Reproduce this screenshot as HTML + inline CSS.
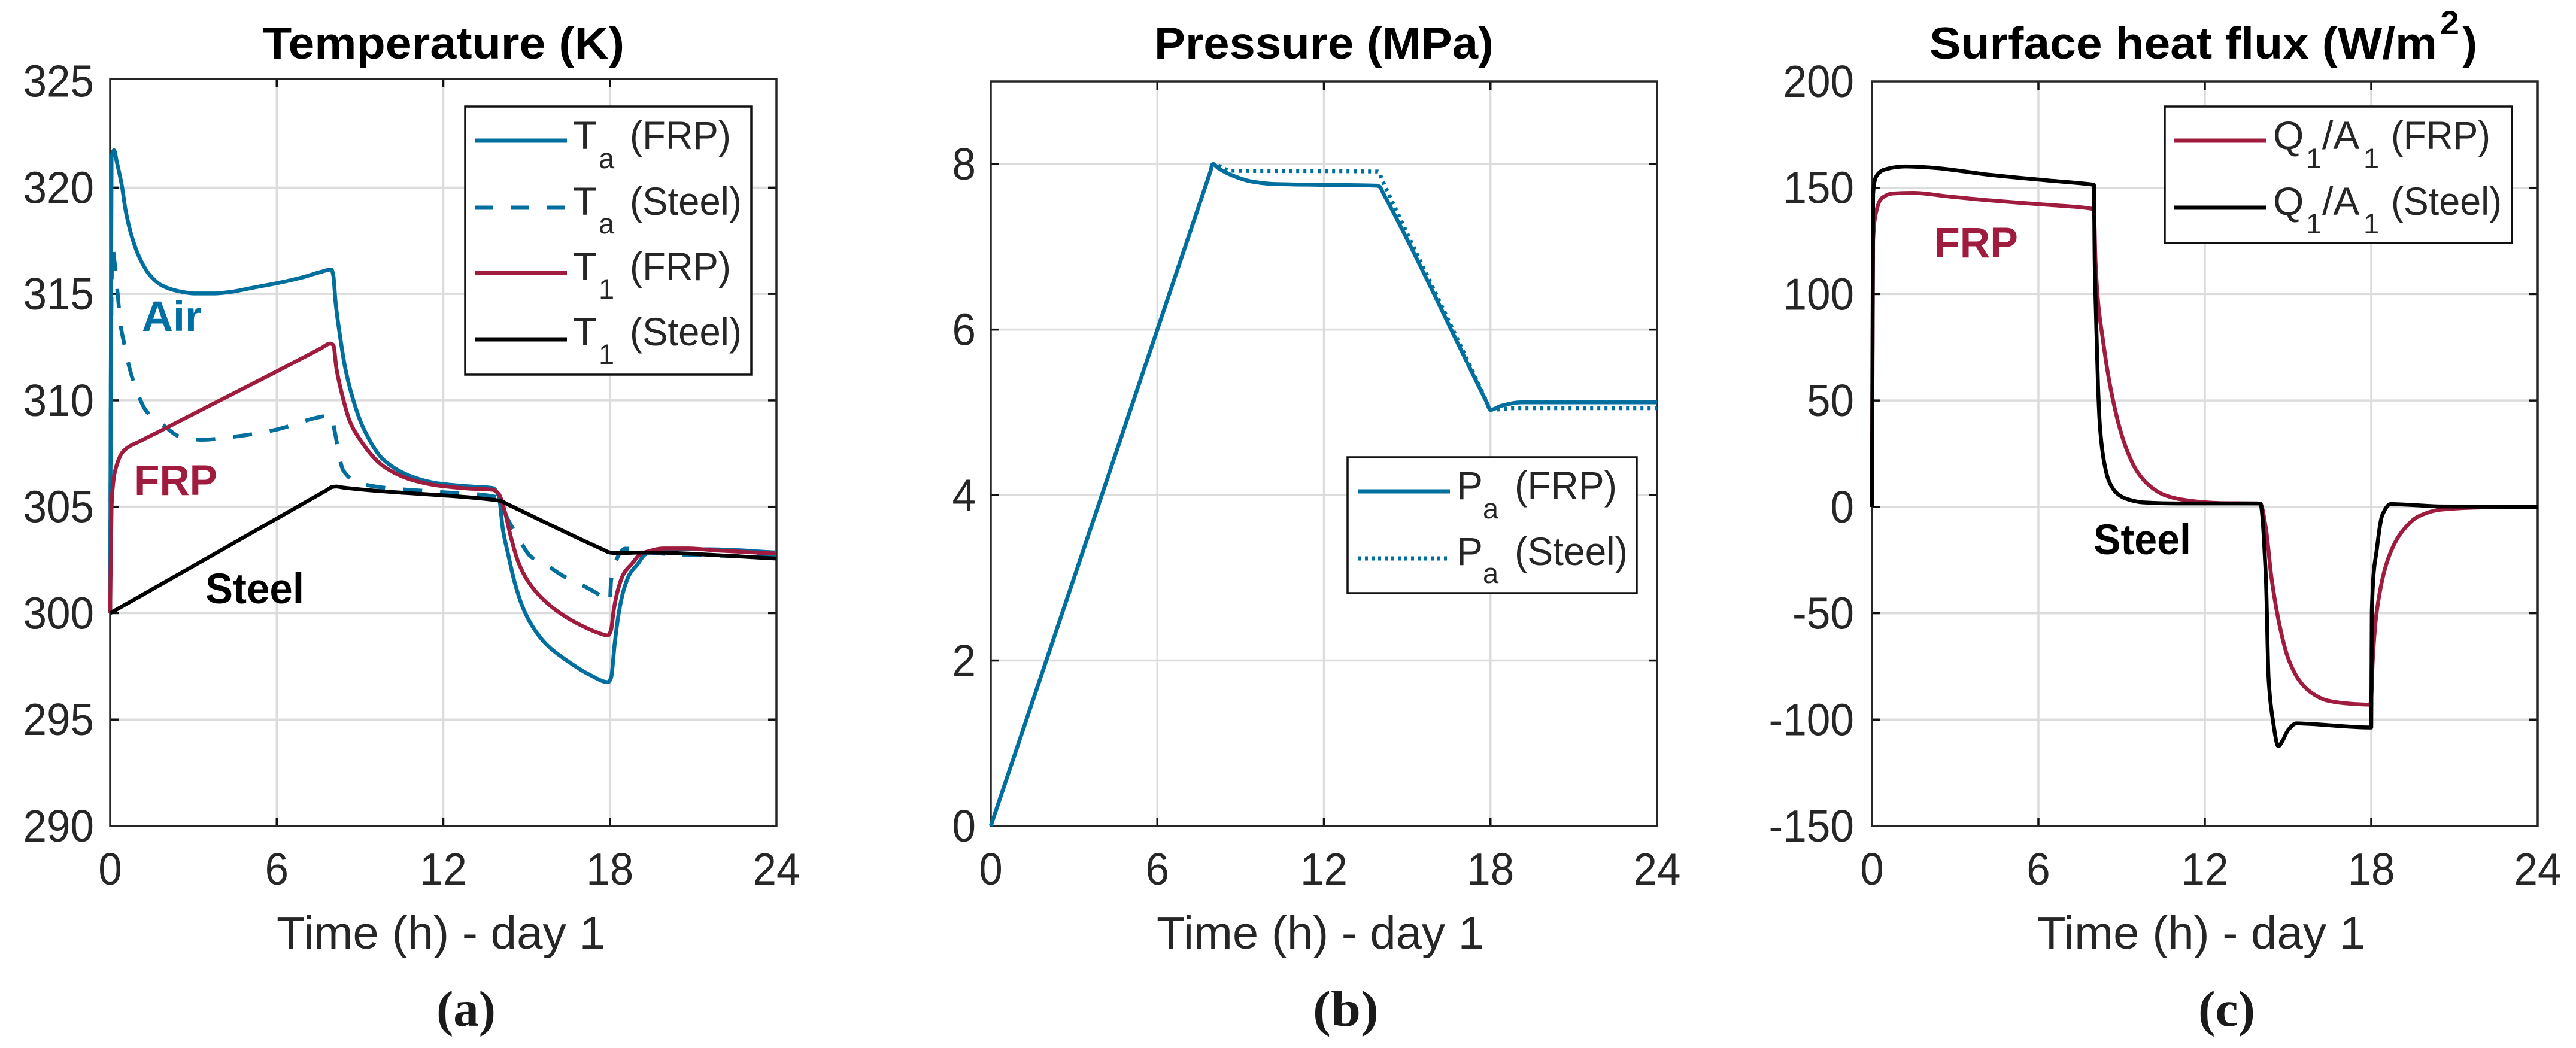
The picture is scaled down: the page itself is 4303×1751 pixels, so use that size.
<!DOCTYPE html>
<html lang="en">
<head>
<meta charset="utf-8">
<title>Temperature, pressure and surface heat flux charts</title>
<style>
html,body{margin:0;padding:0;background:#fff;width:4303px;height:1751px;overflow:hidden}
svg{display:block}
text{font-family:"Liberation Sans",Arial,sans-serif;fill:#262626}
.title{font-size:75px;font-weight:bold;fill:#000}
.xlabel{font-size:77px;text-anchor:start}
.tick{font-size:75px}
.sub-label{font-family:"Liberation Serif","Times New Roman",serif;font-size:85px;font-weight:bold;fill:#1a1a1a}
.leg{font-size:66px}
.legs{font-size:47px}
.note{font-size:71px;font-weight:bold}
</style>
</head>
<body>
<svg id="figure" xmlns="http://www.w3.org/2000/svg" width="4303" height="1751" viewBox="0 0 4303 1751">
  <rect x="0" y="0" width="4303" height="1751" fill="#fff"/>
  <g id="panel-a"></g>
  <g id="panel-b"></g>
  <g id="panel-c"></g>

  <g>
    <text class="title" x="439" y="98" textLength="604" lengthAdjust="spacingAndGlyphs">Temperature (K)</text>
    <text class="title" x="1928" y="98" textLength="567" lengthAdjust="spacingAndGlyphs">Pressure (MPa)</text>
    <text class="title" x="3223" y="98" textLength="848" lengthAdjust="spacingAndGlyphs">Surface heat flux (W/m</text>
    <text class="title" x="4076" y="57" style="font-size:56px" textLength="32" lengthAdjust="spacingAndGlyphs">2</text>
    <text class="title" x="4113" y="98" textLength="25" lengthAdjust="spacingAndGlyphs">)</text>
  </g>

  <g>
    <text class="xlabel" x="462" y="1585" textLength="549" lengthAdjust="spacingAndGlyphs">Time (h) - day 1</text>
    <text class="xlabel" x="1932" y="1585" textLength="547" lengthAdjust="spacingAndGlyphs">Time (h) - day 1</text>
    <text class="xlabel" x="3403" y="1585" textLength="548" lengthAdjust="spacingAndGlyphs">Time (h) - day 1</text>
  </g>

  <g>
    <text class="sub-label" x="729" y="1714" textLength="99" lengthAdjust="spacingAndGlyphs">(a)</text>
    <text class="sub-label" x="2193" y="1714" textLength="110" lengthAdjust="spacingAndGlyphs">(b)</text>
    <text class="sub-label" x="3672" y="1714" textLength="95" lengthAdjust="spacingAndGlyphs">(c)</text>
  </g>

  <g id="overlays">
    <g>
      <text class="note" x="237" y="553" style="fill:#006fa3" textLength="100" lengthAdjust="spacingAndGlyphs">Air</text>
      <text class="note" x="224" y="827" style="fill:#a01c3e" textLength="139" lengthAdjust="spacingAndGlyphs">FRP</text>
      <text class="note" x="343" y="1008" style="fill:#000" textLength="165" lengthAdjust="spacingAndGlyphs">Steel</text>
    </g>
    <g>
      <text class="note" x="3231" y="430" style="fill:#a01c3e" textLength="140" lengthAdjust="spacingAndGlyphs">FRP</text>
      <text class="note" x="3497" y="926" style="fill:#000" textLength="163" lengthAdjust="spacingAndGlyphs">Steel</text>
    </g>

    <g>
      <rect x="777" y="178" width="478" height="448" fill="#fff" stroke="#111" stroke-width="3.5"/>
      <g>
        <line x1="793" x2="947" y1="235" y2="235" stroke="#006f9e" stroke-width="7"/>
        <text class="leg" x="957" y="249">T</text><text class="legs" x="1000" y="281">a</text><text class="leg" x="1052" y="249" textLength="169" lengthAdjust="spacingAndGlyphs">(FRP)</text>
      </g>
      <g>
        <line x1="793" x2="947" y1="347" y2="347" stroke="#006f9e" stroke-width="7" stroke-dasharray="30 30"/>
        <text class="leg" x="957" y="359">T</text><text class="legs" x="1000" y="390">a</text><text class="leg" x="1052" y="359" textLength="187" lengthAdjust="spacingAndGlyphs">(Steel)</text>
      </g>
      <g>
        <line x1="793" x2="947" y1="456" y2="456" stroke="#a01c3e" stroke-width="7"/>
        <text class="leg" x="957" y="468">T</text><text class="legs" x="1000" y="499">1</text><text class="leg" x="1052" y="468" textLength="169" lengthAdjust="spacingAndGlyphs">(FRP)</text>
      </g>
      <g>
        <line x1="793" x2="947" y1="567" y2="567" stroke="#000" stroke-width="7"/>
        <text class="leg" x="957" y="577">T</text><text class="legs" x="1000" y="608">1</text><text class="leg" x="1052" y="577" textLength="187" lengthAdjust="spacingAndGlyphs">(Steel)</text>
      </g>
    </g>

    <g>
      <rect x="2251" y="764" width="483" height="227" fill="#fff" stroke="#111" stroke-width="3.5"/>
      <g>
        <line x1="2269" x2="2422" y1="821" y2="821" stroke="#006f9e" stroke-width="7"/>
        <text class="leg" x="2433" y="834">P</text><text class="legs" x="2477" y="866">a</text><text class="leg" x="2530" y="834" textLength="171" lengthAdjust="spacingAndGlyphs">(FRP)</text>
      </g>
      <g>
        <line x1="2269" x2="2422" y1="933" y2="933" stroke="#006f9e" stroke-width="7" stroke-dasharray="5 6"/>
        <text class="leg" x="2433" y="944">P</text><text class="legs" x="2477" y="974">a</text><text class="leg" x="2530" y="944" textLength="189" lengthAdjust="spacingAndGlyphs">(Steel)</text>
      </g>
    </g>

    <g>
      <rect x="3616" y="178" width="580" height="228" fill="#fff" stroke="#111" stroke-width="3.5"/>
      <g>
        <line x1="3632" x2="3785" y1="235" y2="235" stroke="#a01c3e" stroke-width="7"/>
        <text class="leg" x="3797" y="249">Q</text><text class="legs" x="3852" y="281">1</text><text class="leg" x="3879" y="249">/A</text><text class="legs" x="3948" y="281">1</text><text class="leg" x="3994" y="249" textLength="166" lengthAdjust="spacingAndGlyphs">(FRP)</text>
      </g>
      <g>
        <line x1="3632" x2="3785" y1="347" y2="347" stroke="#000" stroke-width="7"/>
        <text class="leg" x="3797" y="359">Q</text><text class="legs" x="3852" y="390">1</text><text class="leg" x="3879" y="359">/A</text><text class="legs" x="3948" y="390">1</text><text class="leg" x="3994" y="359" textLength="185" lengthAdjust="spacingAndGlyphs">(Steel)</text>
      </g>
    </g>
  </g>
</svg>

<script>
// ---------- shared tick data ----------
const timeTicks = [0, 6, 12, 18, 24];
const tempTicks = [290, 295, 300, 305, 310, 315, 320, 325];
const pressureTicks = [0, 2, 4, 6, 8];
const fluxTicks = [-150, -100, -50, 0, 50, 100, 150, 200];

// ---------- panel (a) temperature, K ----------
const taFrpTime = [0, 0.05, 0.14, 0.24, 0.42, 0.56, 0.78, 1.06, 1.42, 1.86, 2.43, 3.08, 3.73, 4.37, 5.09, 5.99, 6.9, 7.6, 7.97, 8.04, 8.12, 8.26, 8.47, 8.76, 9.12, 9.85, 10.9, 11.8, 13, 13.78, 14.0, 14.15, 14.33, 14.58, 14.87, 15.2, 15.7, 16.42, 17.28, 17.93, 18.04, 18.18, 18.32, 18.5, 18.72, 19, 19.26, 19.44, 20.1, 21.6, 24];
const taFrpTemp = [300, 321.4, 321.75, 321.2, 320.1, 318.9, 317.7, 316.7, 315.9, 315.4, 315.14, 315.02, 315.02, 315.1, 315.28, 315.5, 315.77, 316.04, 316.15, 315.85, 314.6, 313.2, 311.5, 310, 308.7, 307.2, 306.4, 306.1, 305.95, 305.88, 305.5, 303.9, 302.8, 301.4, 300.25, 299.4, 298.55, 297.8, 297.1, 296.76, 296.95, 298.65, 300, 301.1, 301.85, 302.3, 302.75, 302.85, 303, 303, 302.85];
const taSteelTime = [0, 0.03, 0.08, 0.15, 0.27, 0.38, 0.5, 0.7, 1.0, 1.3, 1.95, 2.5, 3.3, 4.5, 5.9, 7.5, 7.97, 8.08, 8.4, 8.9, 9.85, 11.8, 13.95, 14.33, 14.7, 15.15, 15.73, 16.3, 16.88, 17.5, 18, 18.04, 18.18, 18.35, 18.54, 19.2, 19.37, 24];
const taSteelTemp = [300, 312, 317.2, 316.6, 315, 313.5, 312.7, 311.5, 310.3, 309.5, 308.8, 308.3, 308.15, 308.3, 308.6, 309.2, 309.3, 308.6, 306.7, 306.15, 305.9, 305.7, 305.45, 304.4, 303.55, 302.66, 302.25, 301.76, 301.4, 300.96, 300.54, 301.5, 302.3, 302.8, 303.03, 303.03, 302.85, 302.65];
const t1FrpTime = [0, 0.05, 0.1, 0.18, 0.47, 1.15, 1.71, 4.0, 6, 7.6, 7.93, 8.04, 8.15, 8.33, 8.62, 8.83, 9.85, 10.9, 11.8, 13, 13.78, 14, 14.19, 14.44, 14.7, 15.05, 15.48, 16.13, 16.85, 17.57, 17.93, 18.04, 18.14, 18.29, 18.5, 18.8, 19.08, 19.37, 19.94, 20.8, 21.9, 24];
const t1FrpTemp = [300, 305, 306, 306.7, 307.6, 308.13, 308.5, 310.03, 311.36, 312.45, 312.67, 312.6, 311.5, 310.4, 309.06, 308.5, 306.9, 306.25, 306, 305.85, 305.8, 305.6, 304.9, 303.55, 302.4, 301.5, 300.8, 300.07, 299.5, 299.08, 298.95, 299.2, 300.16, 301.1, 301.86, 302.33, 302.75, 302.9, 303.04, 303.04, 302.94, 302.8];
const t1SteelTime = [0, 7.8, 8.0, 8.15, 8.4, 13.85, 14.05, 14.3, 17.75, 18.0, 18.3, 19.2, 24];
const t1SteelTemp = [300, 305.78, 305.93, 305.95, 305.9, 305.32, 305.28, 305.125, 302.99, 302.85, 302.82, 302.85, 302.57];

// ---------- panel (b) pressure, MPa ----------
const paFrpTime = [0, 7.9, 8, 8.2, 8.65, 9.4, 10.2, 12, 13.9, 14, 14.15, 17.85, 18, 18.4, 19.1, 24];
const paFrpValue = [0, 7.9, 8, 7.95, 7.87, 7.79, 7.76, 7.75, 7.74, 7.73, 7.64, 5.13, 5.03, 5.08, 5.12, 5.12];
const paSteelTime = [0, 7.9, 8, 8.65, 13.95, 14.1, 14.25, 17.85, 18, 18.9, 24];
const paSteelValue = [0, 7.9, 8, 7.92, 7.91, 7.81, 7.7, 5.14, 5.03, 5.05, 5.05];

// ---------- panel (c) surface heat flux, W/m2 ----------
const qFrpTime = [0, 0.04, 0.14, 0.34, 0.74, 1.5, 2.7, 4.3, 6.3, 7.9, 8, 8.06, 8.17, 8.31, 8.49, 8.67, 8.92, 9.21, 9.57, 10, 10.5, 11.06, 11.78, 12.5, 13.9, 14, 14.2, 14.4, 14.7, 15, 15.4, 15.8, 16.4, 17.2, 17.95, 18, 18.05, 18.2, 18.6, 19.1, 19.7, 20.5, 22.1, 24];
const qFrpValue = [0, 125, 138, 145, 147.3, 147.6, 146, 144, 142, 140.2, 139.8, 115, 93.8, 80, 64, 51.4, 37.6, 26, 16.4, 10, 5.8, 3.7, 2.4, 1.8, 1.6, 1.5, -10, -33, -56, -71, -81.5, -87, -91, -92.5, -93, -90, -73, -49, -24.7, -11.8, -4.5, -1.3, -0.2, 0];
const qSteelTime = [0, 0.04, 0.14, 0.44, 1.2, 2.1, 4.3, 6.3, 7.9, 8.0, 8.03, 8.08, 8.15, 8.22, 8.36, 8.54, 8.83, 9.19, 9.77, 11.06, 13.9, 14, 14.2, 14.3, 14.45, 14.65, 14.8, 15, 15.3, 15.7, 17.95, 18, 18.02, 18.2, 18.4, 18.7, 19.3, 20.5, 24];
const qSteelValue = [0, 147, 155, 158.5, 160, 159.5, 156, 153.5, 151.6, 151.4, 115, 88.5, 56.7, 37.6, 21.7, 12.2, 6.4, 3.7, 2.1, 1.6, 1.6, 1.5, -33, -81, -100, -112.5, -110, -105, -101.8, -102, -103.7, -103.7, -49, -20, -3.8, 1.3, 1, 0.2, 0];

const SVG_NS = 'http://www.w3.org/2000/svg';

function make(parent, tag, attrs) {
  const el = document.createElementNS(SVG_NS, tag);
  for (const key in attrs) el.setAttribute(key, attrs[key]);
  parent.appendChild(el);
  return el;
}

function scale(d0, d1, r0, r1) {
  return function (v) { return r0 + (v - d0) * (r1 - r0) / (d1 - d0); };
}

function labelWidth(s) {
  let w = 0;
  for (const ch of s) w += ch === '-' ? 24 : 39.5;
  return w;
}

// draws grid, frame, ticks and tick labels; returns the two axis functions
function drawAxes(parent, box, yDomain, yTicks) {
  const x = scale(0, 24, box.left, box.right);
  const y = scale(yDomain[0], yDomain[1], box.bottom, box.yTop);

  for (const t of timeTicks) {
    if (t === 0 || t === 24) continue;
    const grid = make(parent, 'line', { x1: x(t), x2: x(t), y1: box.top, y2: box.bottom, stroke: '#dcdcdc', 'stroke-width': 3.5 });
    
    
  }
  for (const v of yTicks) {
    if (y(v) <= box.top + 5 || y(v) >= box.bottom - 5) continue;
    const grid = make(parent, 'line', { x1: box.left, x2: box.right, y1: y(v), y2: y(v), stroke: '#dcdcdc', 'stroke-width': 3.5 });
    
    
  }

  for (const t of timeTicks) {
    if (t !== 0 && t !== 24) {
      const tickBottom = make(parent, 'line', { x1: x(t), x2: x(t), y1: box.bottom, y2: box.bottom - 14, stroke: '#111', 'stroke-width': 3.5 });
      
      
      const tickTop = make(parent, 'line', { x1: x(t), x2: x(t), y1: box.top, y2: box.top + 14, stroke: '#111', 'stroke-width': 3.5 });
      
      
    }
    const text = String(t);
    const label = make(parent, 'text', { class: 'tick', x: x(t), y: 1478, 'text-anchor': 'middle', textLength: labelWidth(text), lengthAdjust: 'spacingAndGlyphs' });
    label.textContent = text;
    
    
  }

  for (const v of yTicks) {
    if (y(v) > box.top + 5 && y(v) < box.bottom - 5) {
      const tickLeft = make(parent, 'line', { x1: box.left, x2: box.left + 14, y1: y(v), y2: y(v), stroke: '#111', 'stroke-width': 3.5 });
      
      
      const tickRight = make(parent, 'line', { x1: box.right, x2: box.right - 14, y1: y(v), y2: y(v), stroke: '#111', 'stroke-width': 3.5 });
      
      
    }
    const text = String(v);
    const label = make(parent, 'text', { class: 'tick', x: box.labelRight, y: y(v) + 26, 'text-anchor': 'end', textLength: labelWidth(text), lengthAdjust: 'spacingAndGlyphs' });
    label.textContent = text;
    
    
  }

  const frame = make(parent, 'rect', { x: box.left, y: box.top, width: box.right - box.left, height: box.bottom - box.top, fill: 'none', stroke: '#262626', 'stroke-width': 3.5 });
  
  

  return { x: x, y: y };
}

// monotone cubic path through the mapped data points (no overshoot at corners)
function curvePath(px, py) {
  const n = px.length;
  const dx = [], m = [], tan = [];
  for (let i = 0; i < n - 1; i++) {
    dx.push(px[i + 1] - px[i]);
    m.push((py[i + 1] - py[i]) / dx[i]);
  }
  tan.push(m[0]);
  for (let i = 1; i < n - 1; i++) {
    if (m[i - 1] * m[i] <= 0) {
      tan.push(0);
    } else {
      const w1 = 2 * dx[i] + dx[i - 1];
      const w2 = dx[i] + 2 * dx[i - 1];
      tan.push((w1 + w2) / (w1 / m[i - 1] + w2 / m[i]));
    }
  }
  tan.push(m[n - 2]);
  let d = 'M' + px[0].toFixed(1) + ' ' + py[0].toFixed(1);
  for (let i = 0; i < n - 1; i++) {
    const h = dx[i] / 3;
    d += 'C' + (px[i] + h).toFixed(2) + ' ' + (py[i] + tan[i] * h).toFixed(2) + ' ' +
         (px[i + 1] - h).toFixed(2) + ' ' + (py[i + 1] - tan[i + 1] * h).toFixed(2) + ' ' +
         px[i + 1].toFixed(2) + ' ' + py[i + 1].toFixed(2);
  }
  return d;
}

function drawLine(parent, axes, times, values, color, width, dash) {
  const attrs = { d: curvePath(times.map(axes.x), values.map(axes.y)), fill: 'none', stroke: color, 'stroke-width': width, 'stroke-linejoin': 'round', 'stroke-linecap': 'butt' };
  if (dash) attrs['stroke-dasharray'] = dash;
  return make(parent, 'path', attrs);
}

const BLUE = '#006f9e';
const RED = '#a01c3e';
const BLACK = '#000';

// panel (a)
const groupA = document.getElementById('panel-a');
const axesA = drawAxes(groupA, { left: 184, right: 1297, top: 132, yTop: 135.6, bottom: 1380, labelRight: 157 }, [290, 325], tempTicks);
const lineTaFrp = drawLine(groupA, axesA, taFrpTime, taFrpTemp, BLUE, 6.5);


const lineTaSteel = drawLine(groupA, axesA, taSteelTime, taSteelTemp, BLUE, 6.5, '32 30');


const lineT1Frp = drawLine(groupA, axesA, t1FrpTime, t1FrpTemp, RED, 6.5);


const lineT1Steel = drawLine(groupA, axesA, t1SteelTime, t1SteelTemp, BLACK, 6.5);



// panel (b)
const groupB = document.getElementById('panel-b');
const axesB = drawAxes(groupB, { left: 1655, right: 2768, top: 136, yTop: 136, bottom: 1380, labelRight: 1630 }, [0, 9], pressureTicks);
const linePaSteel = drawLine(groupB, axesB, paSteelTime, paSteelValue, BLUE, 6.5, '5 7');


const linePaFrp = drawLine(groupB, axesB, paFrpTime, paFrpValue, BLUE, 6.5);



// panel (c)
const groupC = document.getElementById('panel-c');
const axesC = drawAxes(groupC, { left: 3127, right: 4239, top: 136, yTop: 136, bottom: 1380, labelRight: 3097 }, [-150, 200], fluxTicks);
const lineQFrp = drawLine(groupC, axesC, qFrpTime, qFrpValue, RED, 6.5);


const lineQSteel = drawLine(groupC, axesC, qSteelTime, qSteelValue, BLACK, 6.5);



// keep legends and annotations above the plotted lines
const figure = document.getElementById('figure');
figure.appendChild(document.getElementById('overlays'));
</script>
</body>
</html>
